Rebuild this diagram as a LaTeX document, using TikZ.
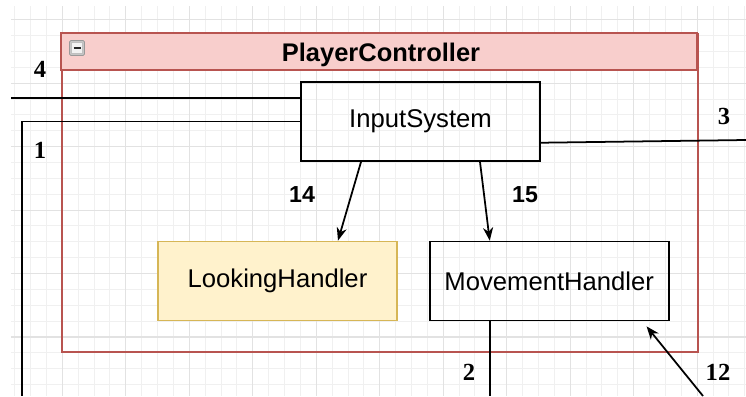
\documentclass[tikz,border=0pt]{standalone}
\usepackage{fontspec}
\setmainfont{Liberation Sans}
\newfontfamily\numfont{Liberation Serif}
\usepackage{tikz}
\usetikzlibrary{positioning, arrows.meta}

\definecolor{bordorosso}{HTML}{B85450}
\definecolor{fondorosso}{HTML}{F8CECC}
\definecolor{bordogiallo}{HTML}{D6B656}
\definecolor{fondogiallo}{HTML}{FFF2CC}
\definecolor{grigliafine}{HTML}{F0F0F0}
\definecolor{grigliagrossa}{HTML}{E2E2E2}

\tikzset{
  blocco/.style={rectangle, draw, line width=1pt, minimum width=4.78cm, minimum height=1.58cm, font=\fontsize{14.6}{17}\selectfont},
  numero/.style={font=\numfont\bfseries\fontsize{14}{16}\selectfont},
  etichetta/.style={font=\bfseries\fontsize{13.2}{15}\selectfont},
  freccia/.style={line width=1pt, -{Stealth[length=0.26cm, width=0.2cm, inset=0.08cm]}},
  linea/.style={line width=1pt}
}

\begin{document}
\begin{tikzpicture}[x=0.02cm, y=-0.02cm]
	\useasboundingbox (0,0) rectangle (746,396);
	
	% Griglia
	\begin{scope}
		\clip (11,6) rectangle (746,396);
		\foreach \i in {-4,...,43} {
			\draw[grigliafine, line width=0.5pt] (62.3+15.87*\i,0) -- (62.3+15.87*\i,396);
		}
		\foreach \j in {-1,...,24} {
			\draw[grigliafine, line width=0.5pt] (0,19.6+15.87*\j) -- (746,19.6+15.87*\j);
		}
		\foreach \i in {-1,...,10} {
			\draw[grigliagrossa, line width=0.6pt] (62.3+63.48*\i,0) -- (62.3+63.48*\i,396);
		}
		\foreach \j in {0,...,6} {
			\draw[grigliagrossa, line width=0.6pt] (0,19.6+63.48*\j) -- (746,19.6+63.48*\j);
		}
	\end{scope}
	
	% Contenitore PlayerController
	\node[rectangle, draw=bordorosso, line width=0.9pt, minimum width=12.72cm, minimum height=6.36cm] (player) at (380,193) {};
	\draw[bordorosso, fill=fondorosso, line width=0.9pt] (player.north west) rectangle ++(636,37);
	\node[font=\bfseries\fontsize{14.5}{17}\selectfont] (titolo) at (381,55) {PlayerController};
	
	% Pulsante comprimi
	\draw[gray!80, fill=gray!45, rounded corners=0.8pt] (69.5,40.5) rectangle (84.5,55.5);
	\draw[gray!50, fill=white!90!gray] (71.5,42.5) rectangle (82.5,53.5);
	\draw[black!85, line width=1.5pt] (73.5,48) -- (80.5,48);
	
	% Blocchi
	\node[blocco] (input) at (420.5,121.5) {InputSystem};
	\node[blocco, draw=bordogiallo, fill=fondogiallo] (looking) at (277.5,281) {LookingHandler};
	\node[blocco, right=0.62cm of looking] (movement) {MovementHandler};
	
	% Estremi liberi
	\coordinate (e4) at (11,98);
	\coordinate (e1) at (22,396);
	\coordinate (e3) at (746,140);
	\coordinate (e12) at (703,396);
	
	% Connessioni
	\draw[linea] (e4) -- (e4 -| input.west);
	\draw[linea] (input.west) -| (e1);
	\draw[linea] (input.-10) -- (e3);
	\draw[freccia] ([xshift=-1.19cm]input.south) -- ([xshift=1.21cm]looking.north);
	\draw[freccia] ([xshift=1.19cm]input.south) -- ([xshift=-1.19cm]movement.north);
	\draw[linea] ([xshift=-1.19cm]movement.south) -- ++(0,75);
	\draw[freccia] (e12) -- ([xshift=-0.46cm, yshift=-0.1cm]movement.south east);
	
	% Numeri
	\node[numero] (n4) at (40,69) {4};
	\node[numero] (n1) at (40,150) {1};
	\node[numero] (n3) at (724,116) {3};
	\node[numero] (n2) at (469,372) {2};
	\node[numero] (n12) at (718,372) {12};
	\node[etichetta] (n14) at (302,195) {14};
	\node[etichetta] (n15) at (525,195) {15};
\end{tikzpicture}
\end{document}
